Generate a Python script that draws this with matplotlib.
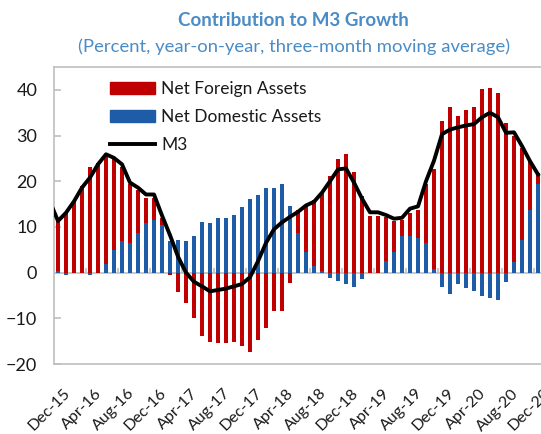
import numpy as np
import matplotlib
matplotlib.use("Agg")
import matplotlib.pyplot as plt
import matplotlib.transforms as mtransforms
from matplotlib.patches import Patch
from matplotlib.lines import Line2D

plt.rcParams['font.family'] = ['Lato', 'DejaVu Sans']

# Monthly data, Dec-15 .. Dec-20 (61 months)
nfa = [10.9, 13.1, 15.6, 18.9, 23.2, 23.9, 23.9, 19.8, 16.3, 12.8,
       9.3, 5.6, 4.9, 1.5, -0.6, -4.3, -6.6, -9.9, -13.9, -15.1,
       -15.5, -15.3, -15.2, -16.0, -17.3, -14.7, -12.1, -8.5, -8.5, -2.3,
       5.0, 10.0, 14.5, 17.2, 21.2, 24.8, 25.9, 22.0, 16.7, 12.4,
       12.4, 9.6, 6.8, 3.5, 5.0, 6.2, 12.8, 21.9, 33.2, 36.3,
       34.3, 35.6, 36.3, 40.1, 40.5, 39.4, 32.8, 27.6, 20.1, 10.6,
       2.5]
nda = [0.4, -0.5, 0.0, 0.0, -0.6, 0.0, 1.9, 5.0, 6.9, 6.5,
       8.7, 10.8, 11.5, 10.5, 7.0, 7.2, 6.9, 8.1, 11.1, 10.9,
       12.0, 12.0, 12.7, 14.3, 16.2, 17.0, 18.6, 18.6, 19.3, 14.5,
       8.7, 4.6, 1.5, 0.3, -1.2, -1.9, -2.6, -3.1, -1.5, 0.0,
       0.0, 2.5, 4.5, 8.1, 8.1, 7.6, 6.5, 0.7, -3.1, -4.6,
       -2.6, -3.4, -4.0, -5.1, -5.5, -5.9, -2.0, 2.3, 7.2, 13.8,
       19.3]
# M3 line, Nov-15 .. Dec-20 (first point lies just left of the axis)
m3 = [15.5,
      11.3, 13.1, 15.6, 18.6, 20.8, 23.7, 25.9, 25.1, 23.7, 19.7,
      18.6, 17.1, 17.1, 12.5, 8.2, 3.5, 0.0, -2.0, -3.0, -4.1,
      -3.8, -3.5, -3.0, -2.5, -1.0, 2.5, 6.5, 9.5, 11.0, 12.2,
      13.3, 14.7, 15.5, 17.5, 20.0, 22.6, 22.8, 19.7, 16.2, 13.2,
      13.2, 12.6, 11.8, 12.0, 14.0, 14.5, 20.0, 24.5, 30.3, 31.3,
      31.8, 32.2, 32.5, 34.0, 35.0, 34.0, 30.6, 30.7, 27.7, 24.4,
      21.5]
tick_labels = ['Dec-15', 'Apr-16', 'Aug-16', 'Dec-16', 'Apr-17', 'Aug-17',
               'Dec-17', 'Apr-18', 'Aug-18', 'Dec-18', 'Apr-19', 'Aug-19',
               'Dec-19', 'Apr-20', 'Aug-20', 'Dec-20']

RED = '#C00000'
BLUE = '#1F5CA8'
GREY = '#BFBFBF'
TXT = '#1a1a1a'
TITLE = '#4A8CC6'

nfa = np.array(nfa)
nda = np.array(nda)
n = len(nfa)
x = np.arange(n)

fig = plt.figure(figsize=(5.41, 4.34), dpi=100)
ax = fig.add_axes([54/541, 1-364/434, (542-54)/541, (364-67)/434])

w = 0.45
ax.bar(x, nda, width=w, color=BLUE, zorder=2)
red_bottom = np.where(nfa >= 0, np.maximum(nda, 0), np.minimum(nda, 0))
ax.bar(x, nfa, bottom=red_bottom, width=w, color=RED, zorder=2)

ax.axhline(0, color=GREY, lw=1.2, zorder=1)
bounds = np.arange(-0.5, n, 4)
ax.vlines(bounds, 0, 1.1, color=GREY, lw=1.2, zorder=1)

xm = np.arange(-1, n)
ax.plot(xm, m3, color='black', lw=2.8, zorder=3, solid_joinstyle='round')

ax.set_xlim(-0.5, n - 0.5)
ax.set_ylim(-20, 45)
ax.set_yticks(np.arange(-20, 41, 10))
ax.tick_params(axis='y', direction='in', length=5, color=GREY, width=1.2,
               labelsize=13, labelcolor=TXT, pad=12)
ax.set_xticks(x[::4])
ax.set_xticklabels(tick_labels, rotation=45, ha='right', rotation_mode='anchor',
                   fontsize=11.5, color=TXT)
ax.tick_params(axis='x', length=0, pad=16)
off = mtransforms.ScaledTranslation(5/100, 0, fig.dpi_scale_trans)
for lab in ax.get_xticklabels():
    lab.set_transform(lab.get_transform() + off)
for s in ax.spines.values():
    s.set_color(GREY)
    s.set_linewidth(1.2)

handles = [Patch(color=RED), Patch(color=BLUE), Line2D([], [], color='black', lw=2.8)]
leg = ax.legend(handles, ['Net Foreign Assets', 'Net Domestic Assets', 'M3'],
                loc='upper left', bbox_to_anchor=(0.1, 0.975), frameon=False,
                fontsize=12.5, handlelength=2.6, handleheight=0.65,
                labelspacing=0.68, handletextpad=0.35, borderaxespad=0)
for t in leg.get_texts():
    t.set_color(TXT)

fig.text(0.543, 1-20/434, 'Contribution to M3 Growth', ha='center', va='center',
         fontsize=13.5, fontweight='bold', color=TITLE)
fig.text(0.543, 1-47/434, '(Percent, year-on-year, three-month moving average)',
         ha='center', va='center', fontsize=13.3, color=TITLE)

fig.savefig('out.png', dpi=100)
